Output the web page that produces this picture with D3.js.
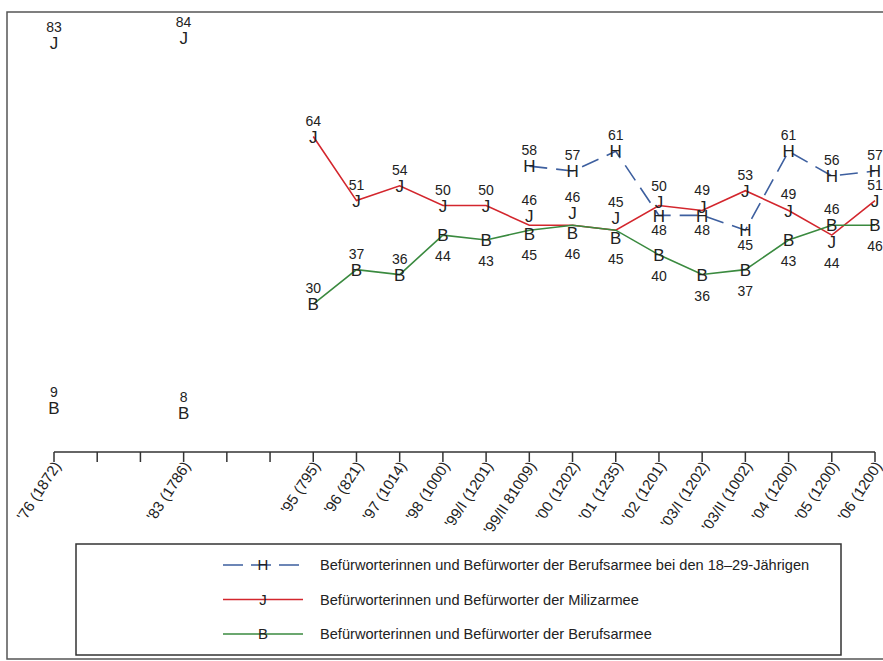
<!DOCTYPE html>
<html lang="de">
<head>
    <meta charset="UTF-8">
    <title>Befürworter Miliz- und Berufsarmee</title>
    <script src="https://d3js.org/d3.v7.min.js"></script>
    <style>
        body {
            margin: 0;
            padding: 0;
            background-color: #ffffff;
            font-family: "Liberation Sans", Arial, sans-serif;
        }

        svg {
            display: block;
        }

        .frame {
            fill: none;
            stroke: #555;
            stroke-width: 1.5px;
        }

        .axis-line,
        .tick {
            stroke: #333;
            stroke-width: 1.5px;
        }

        .tick-label {
            font-size: 15px;
            fill: #222;
        }

        .glyph {
            font-size: 17px;
            fill: #222;
            text-anchor: middle;
        }

        .value {
            font-size: 14px;
            fill: #222;
            text-anchor: middle;
        }

        .legend-box {
            fill: none;
            stroke: #333;
            stroke-width: 1.5px;
        }

        .legend-text {
            font-size: 14.6px;
            fill: #222;
        }
    </style>
</head>
<body>
    <script>
        const width = 883, height = 661;

        // Erhebungszeitpunkte (Stichprobengrösse); leere Ticks ohne Erhebung
        const periods = [
            "'76 (1872)", "", "", "'83 (1786)", "", "",
            "'95 (795)", "'96 (821)", "'97 (1014)", "'98 (1000)",
            "'99/I (1201)", "'99/II 81009)", "'00 (1202)", "'01 (1235)",
            "'02 (1201)", "'03/I (1202)", "'03/II (1002)", "'04 (1200)",
            "'05 (1200)", "'06 (1200)"
        ];

        // Werte in %
        const milizValues = [83, null, null, 84, null, null, 64, 51, 54, 50, 50, 46, 46, 45, 50, 49, 53, 49, 44, 51];
        const berufValues = [9, null, null, 8, null, null, 30, 37, 36, 44, 43, 45, 46, 45, 40, 36, 37, 43, 46, 46];
        const jungValues = [null, null, null, null, null, null, null, null, null, null, null, 58, 57, 61, 48, 48, 45, 61, 56, 57];

        // Lage der Zahlenbeschriftung: 1 = oberhalb, -1 = unterhalb
        const milizSide = [1, 0, 0, 1, 0, 0, 1, 1, 1, 1, 1, 1, 1, 1, 1, 1, 1, 1, -1, 1];
        const berufSide = [1, 0, 0, 1, 0, 0, 1, 1, 1, -1, -1, -1, -1, -1, -1, -1, -1, -1, 1, -1];
        const jungSide = [0, 0, 0, 0, 0, 0, 0, 0, 0, 0, 0, 1, 1, 1, -1, -1, -1, 1, 1, 1];

        const legendLabels = [
            "Befürworterinnen und Befürworter der Berufsarmee bei den 18–29-Jährigen",
            "Befürworterinnen und Befürworter der Milizarmee",
            "Befürworterinnen und Befürworter der Berufsarmee"
        ];

        const series = [
            { key: "H", values: jungValues, side: jungSide, color: "#3d5f9f", dash: "18,9" },
            { key: "J", values: milizValues, side: milizSide, color: "#d3262d", dash: null },
            { key: "B", values: berufValues, side: berufSide, color: "#3a8a3f", dash: null }
        ];

        const svg = d3.select("body").append("svg")
            .attr("width", width)
            .attr("height", height);

        const x = d3.scalePoint()
            .domain(d3.range(periods.length))
            .range([54, 875]);

        const y = d3.scaleLinear()
            .domain([0, 85])
            .range([452, 33]);

        // Rahmen
        svg.append("rect")
            .attr("class", "frame")
            .attr("x", 7)
            .attr("y", 12)
            .attr("width", 900)
            .attr("height", 647);

        // x-Achse
        svg.append("line")
            .attr("class", "axis-line")
            .attr("x1", x(0))
            .attr("x2", x(periods.length - 1))
            .attr("y1", y(0))
            .attr("y2", y(0));

        svg.selectAll(".tick")
            .data(d3.range(periods.length))
            .enter()
            .append("line")
            .attr("class", "tick")
            .attr("x1", d => x(d))
            .attr("x2", d => x(d))
            .attr("y1", y(0))
            .attr("y2", y(0) + 10);

        svg.selectAll(".tick-label")
            .data(d3.range(periods.length).filter(i => periods[i] !== ""))
            .enter()
            .append("text")
            .attr("class", "tick-label")
            .attr("text-anchor", "end")
            .attr("transform", d => `translate(${x(d) + 3},${y(0) + 11}) rotate(-57)`)
            .attr("dy", "0.35em")
            .text(d => periods[d]);

        // Linien
        const line = d3.line()
            .defined(d => d.v !== null)
            .x(d => x(d.i))
            .y(d => y(d.v));

        for (const s of series) {
            const pts = s.values.map((v, i) => ({ i, v }));
            svg.append("path")
                .datum(pts)
                .attr("fill", "none")
                .attr("stroke", s.color)
                .attr("stroke-width", 1.6)
                .attr("stroke-dasharray", s.dash)
                .attr("d", line);
        }

        // Buchstaben-Marker auseinanderschieben, wenn Werte fast zusammenfallen
        function nudge(key, i) {
            const j = milizValues[i], b = berufValues[i], h = jungValues[i];
            let shift = 0;
            if (j !== null && b !== null && Math.abs(j - b) <= 2) {
                const diff = Math.abs(j - b);
                const up = j >= b ? -1 : 1;
                if (key === "J") shift += up * (12 - 2.5 * diff);
                if (key === "B") shift -= up * (8 - 4 * diff);
            }
            if (j !== null && h !== null && j >= h && j - h <= 2) {
                if (key === "J") shift -= 4;
            }
            return shift;
        }

        for (const s of series) {
            const pts = s.values.map((v, i) => ({ i, v })).filter(d => d.v !== null);
            const g = svg.append("g");

            g.selectAll(".glyph")
                .data(pts)
                .enter()
                .append("text")
                .attr("class", "glyph")
                .attr("x", d => x(d.i))
                .attr("y", d => y(d.v) + nudge(s.key, d.i))
                .attr("dy", "0.36em")
                .text(s.key);

            g.selectAll(".value")
                .data(pts)
                .enter()
                .append("text")
                .attr("class", "value")
                .attr("x", d => x(d.i))
                .attr("y", d => y(d.v) + nudge(s.key, d.i) + (s.side[d.i] > 0 ? -16 : (s.key === "H" ? 15 : 21)))
                .attr("dy", "0.36em")
                .text(d => d.v);
        }

        // Legende
        const legend = svg.append("g");

        legend.append("rect")
            .attr("class", "legend-box")
            .attr("x", 76)
            .attr("y", 544)
            .attr("width", 765)
            .attr("height", 111);

        const legendY = d3.scalePoint()
            .domain(d3.range(series.length))
            .range([565, 634]);

        series.forEach((s, i) => {
            const ly = legendY(i);
            legend.append("line")
                .attr("x1", 223)
                .attr("x2", 303)
                .attr("y1", ly)
                .attr("y2", ly)
                .attr("stroke", s.color)
                .attr("stroke-width", 1.6)
                .attr("stroke-dasharray", s.dash ? "20,8" : null);

            legend.append("text")
                .attr("class", "glyph")
                .style("font-size", "15px")
                .attr("x", 263)
                .attr("y", ly)
                .attr("dy", "0.36em")
                .text(s.key);

            legend.append("text")
                .attr("class", "legend-text")
                .attr("x", 320)
                .attr("y", ly)
                .attr("dy", "0.36em")
                .text(legendLabels[i]);
        });
    </script>
</body>
</html>
